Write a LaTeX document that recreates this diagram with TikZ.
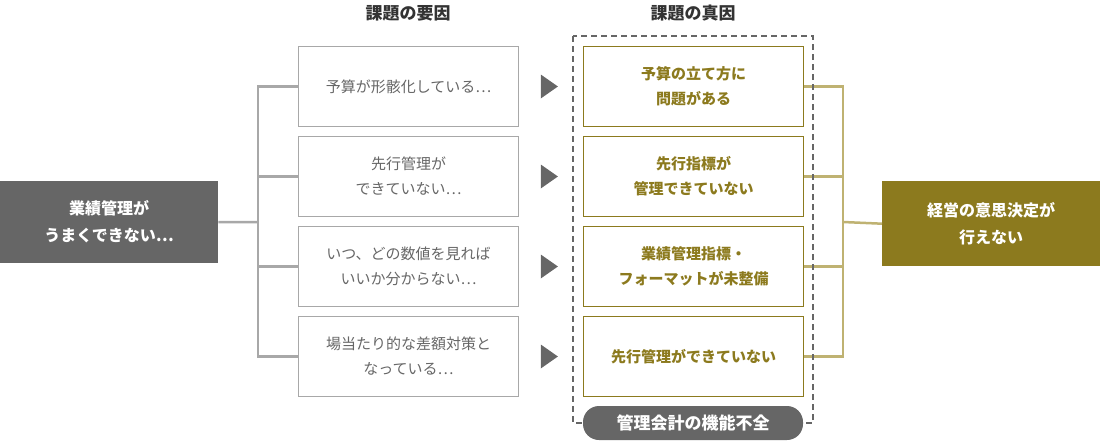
\documentclass[tikz,border=0pt]{standalone}
\usepackage{fontspec}
\usetikzlibrary{shapes.geometric}
\setmainfont{Noto Sans CJK JP}
\definecolor{dg}{HTML}{666666}
\definecolor{lg}{HTML}{A8A8A8}
\definecolor{ol}{HTML}{8C7A1E}
\definecolor{lol}{HTML}{BFB272}
\begin{document}
\begin{tikzpicture}[x=1pt,y=-1pt,
 mid/.style={draw=lg,line width=1pt,minimum width=220pt,minimum height=80pt,text=dg,font=\fontsize{15}{25}\selectfont,align=center,anchor=north west},
 tru/.style={draw=ol,line width=1pt,minimum width=220pt,minimum height=80pt,text=ol,font=\bfseries\fontsize{15}{25}\selectfont,align=center,anchor=north west},
 tri/.style={fill=dg,draw=none,isosceles triangle,isosceles triangle apex angle=70,inner sep=0pt,minimum height=17pt,minimum width=24pt},
 hd/.style={text=black!80,font=\bfseries\fontsize{17}{20}\selectfont},
 ln/.style={line width=2.5pt}]
\useasboundingbox (0,0) rectangle (1100,442);
\node[fill=dg,text=white,minimum width=218pt,minimum height=82pt,anchor=north west,font=\bfseries\fontsize{16}{27}\selectfont,align=center,inner sep=0pt] (L) at (0,181) {業績管理が\\うまくできない…};
\node[fill=ol,text=white,minimum width=218pt,minimum height=85pt,anchor=north west,font=\bfseries\fontsize{16}{27}\selectfont,align=center,inner sep=0pt] (R) at (882,181) {経営の意思決定が\\行えない};
\node[hd] (h1) at (408,13) {課題の要因};
\node[hd] (h2) at (693,13) {課題の真因};
\node[mid] (m1) at (298,46) {予算が形骸化している…};
\node[mid] (m2) at (298,136) {先行管理が\\できていない…};
\node[mid] (m3) at (298,226) {いつ、どの数値を見れば\\いいか分からない…};
\node[mid] (m4) at (298,316) {場当たり的な差額対策と\\なっている…};
\node[tru] (t1) at (583,46) {予算の立て方に\\問題がある};
\node[tru] (t2) at (583,136) {先行指標が\\管理できていない};
\node[tru] (t3) at (583,226) {業績管理指標・\\フォーマットが未整備};
\node[tru] (t4) at (583,316) {先行管理ができていない};
\foreach \i in {1,2,3,4}{
 \path (m\i.east) -- (t\i.west) node[midway,xshift=-4pt,tri] (a\i) {};
}
\coordinate (lb) at (258,222);
\draw[lg,ln] (L.east) -- (lb);
\draw[lg,ln] (m1.west) -| (lb) |- (m4.west);
\draw[lg,ln] (m2.west) -- (m2.west -| lb);
\draw[lg,ln] (m3.west) -- (m3.west -| lb);
\coordinate (rb) at (843,222);
\draw[lol,ln] (R.west) -- (rb);
\draw[lol,ln] (t1.east) -| (rb) |- (t4.east);
\draw[lol,ln] (t2.east) -- (t2.east -| rb);
\draw[lol,ln] (t3.east) -- (t3.east -| rb);
\draw[dg,line width=1.8pt,dash pattern=on 6pt off 4pt] (573,36) rectangle (813,423);
\node[fill=dg,text=white,rounded corners=16pt,minimum width=220pt,minimum height=34pt,inner sep=0pt,font=\bfseries\fontsize{17}{20}\selectfont] (p) at (693,423) {管理会計の機能不全};
\end{tikzpicture}
\end{document}
